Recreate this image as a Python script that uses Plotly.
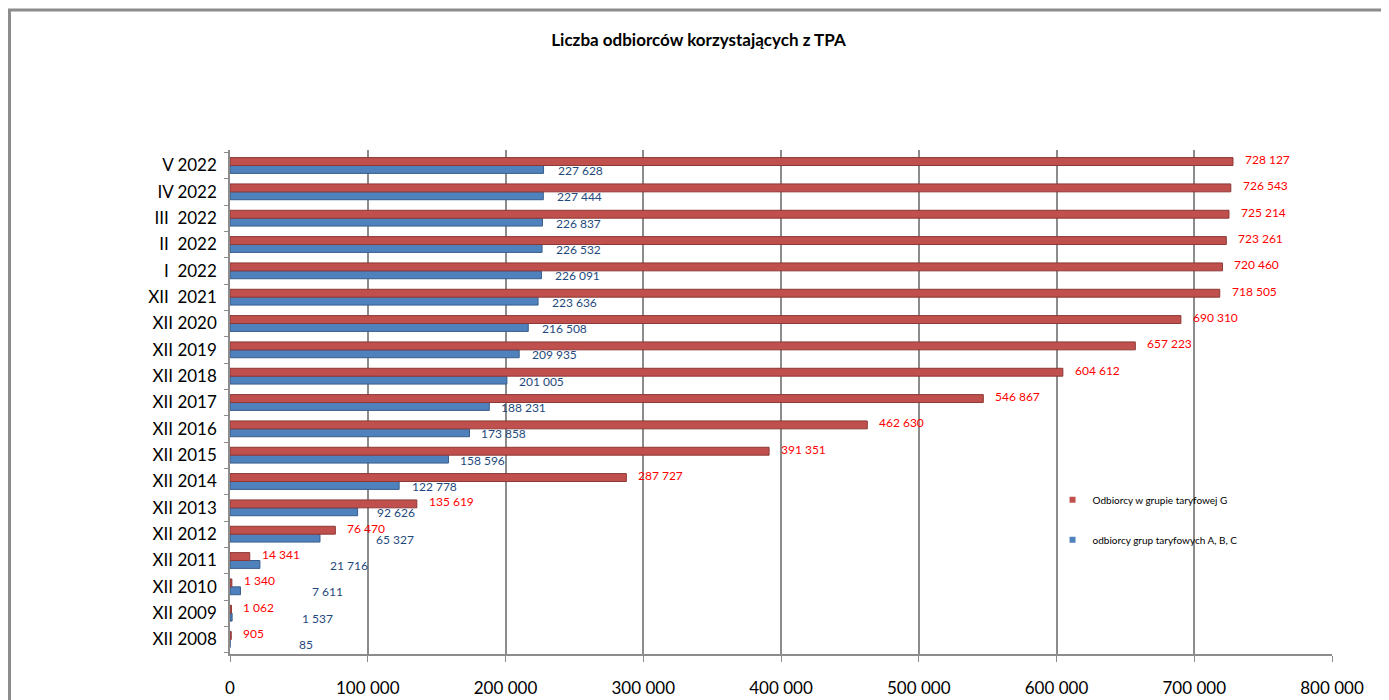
import plotly.graph_objects as go

# categories, bottom to top
categories = ["XII 2008", "XII 2009", "XII 2010", "XII 2011", "XII 2012", "XII 2013",
              "XII 2014", "XII 2015", "XII 2016", "XII 2017", "XII 2018", "XII 2019",
              "XII 2020", "XII  2021", "I  2022", "II  2022", "III  2022", "IV 2022", "V 2022"]

group_g = [905, 1062, 1340, 14341, 76470, 135619, 287727, 391351, 462630, 546867,
           604612, 657223, 690310, 718505, 720460, 723261, 725214, 726543, 728127]

group_abc = [85, 1537, 7611, 21716, 65327, 92626, 122778, 158596, 173858, 188231,
             201005, 209935, 216508, 223636, 226091, 226532, 226837, 227444, 227628]

x_ticks = [0, 100000, 200000, 300000, 400000, 500000, 600000, 700000, 800000]

# horizontal pixel offsets of the value labels (Excel pushed the small ones aside)
abc_label_shift = [67, 68, 70, 68, 54, 17, 11, 10, 10, 10, 10, 11, 12, 12, 12, 12, 12, 12, 12]

FONT = "Lato, Liberation Sans, sans-serif"
RED = "#C0504D"
BLUE = "#4F81BD"


def fmt(v):
    return f"{v:,}".replace(",", " ")


fig = go.Figure()

fig.add_trace(go.Bar(
    y=categories,
    x=group_abc,
    orientation="h",
    name="odbiorcy grup taryfowych A, B, C",
    marker=dict(color=BLUE, line=dict(color="#385D8A", width=1)),
    showlegend=False,
))

fig.add_trace(go.Bar(
    y=categories,
    x=group_g,
    orientation="h",
    name="Odbiorcy w grupie taryfowej G",
    marker=dict(color=RED, line=dict(color="#8C3836", width=1)),
    showlegend=False,
))

# legend entries with small square keys
fig.add_trace(go.Scatter(
    x=[None], y=[None], mode="markers", name="Odbiorcy w grupie taryfowej G",
    legendgroup="g", marker=dict(symbol="square", size=6, color=RED),
))
fig.add_trace(go.Scatter(
    x=[None], y=[None], mode="markers", name="odbiorcy grup taryfowych A, B, C",
    legendgroup="abc", marker=dict(symbol="square", size=6, color=BLUE),
))

for cat, val in zip(categories, group_g):
    fig.add_annotation(x=val, y=cat, text=fmt(val), showarrow=False,
                       xanchor="left", yanchor="middle", xshift=10, yshift=6,
                       font=dict(family=FONT, size=12, color="#FF0000"))

for cat, val, sh in zip(categories, group_abc, abc_label_shift):
    fig.add_annotation(x=val, y=cat, text=fmt(val), showarrow=False,
                       xanchor="left", yanchor="middle", xshift=sh, yshift=-5,
                       font=dict(family=FONT, size=12, color="#1F497D"))

# outer frame of the chart area
fig.add_shape(type="rect", xref="paper", yref="paper",
              x0=-0.2001, x1=1.2, y0=-0.3, y1=1.2778,
              line=dict(color="#8C8C8C", width=3), layer="below")

fig.update_layout(
    width=1381,
    height=692,
    title=dict(text="<b>Liczba odbiorców korzystających z TPA</b>",
               x=0.5, xanchor="center", y=0.954, yanchor="middle",
               font=dict(family=FONT, size=17, color="black")),
    margin=dict(l=222, r=57, t=142, b=46),
    barmode="group",
    bargap=0.4,
    bargroupgap=0,
    plot_bgcolor="white",
    paper_bgcolor="white",
    separators=", ",
    legend=dict(
        x=0.7464, y=0.335, xanchor="left", yanchor="top",
        traceorder="grouped",
        tracegroupgap=21,
        font=dict(family=FONT, size=10, color="black"),
        itemwidth=30,
        bgcolor="rgba(0,0,0,0)",
    ),
    xaxis=dict(
        range=[0, 800000],
        tickvals=x_ticks,
        tickformat=",d",
        showgrid=True,
        gridcolor="#8C8C8C",
        gridwidth=1.5,
        zeroline=False,
        showline=True,
        linecolor="#8C8C8C",
        linewidth=1.5,
        ticks="outside",
        tickcolor="#8C8C8C",
        ticklen=6,
        ticklabelstandoff=12,
        automargin=False,
        tickfont=dict(family=FONT, size=17, color="black"),
    ),
    yaxis=dict(
        categoryorder="array",
        categoryarray=categories,
        tickvals=categories,
        ticktext=[c.replace("  ", " \u00a0") for c in categories],
        showline=True,
        linecolor="#8C8C8C",
        linewidth=1.5,
        ticks="outside",
        tickson="boundaries",
        tickcolor="#8C8C8C",
        ticklen=4,
        ticklabelstandoff=8,
        automargin=False,
        tickfont=dict(family=FONT, size=17, color="black"),
        showgrid=False,
    ),
)

fig.write_html("out.html")
